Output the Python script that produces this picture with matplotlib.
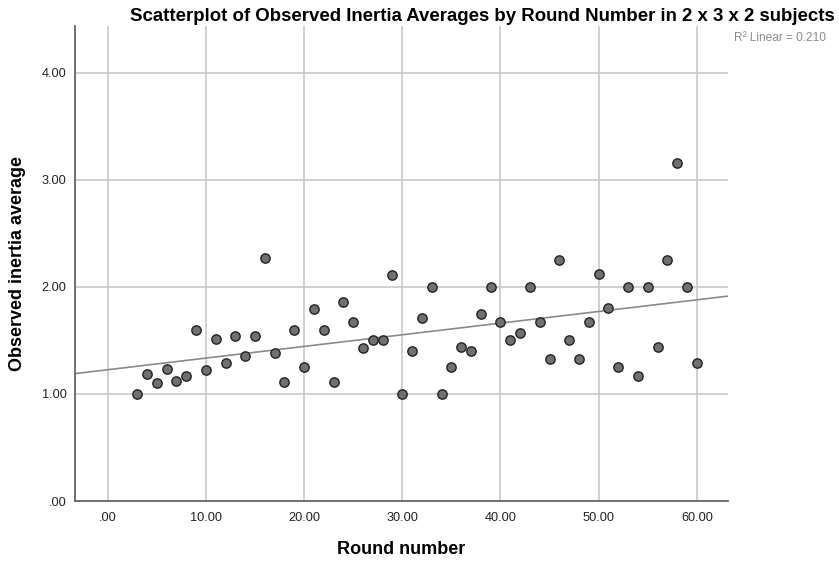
import matplotlib
matplotlib.use("Agg")
import matplotlib.pyplot as plt
import numpy as np

# one observed inertia average per round (rounds 3..60)
rounds = list(range(3, 61))
inertia = [1.00, 1.19, 1.10, 1.23, 1.12, 1.17, 1.60, 1.22, 1.51, 1.29,
           1.54, 1.35, 1.54, 2.27, 1.38, 1.11, 1.60, 1.25, 1.79, 1.60,
           1.11, 1.86, 1.67, 1.43, 1.50, 1.50, 2.11, 1.00, 1.40, 1.71,
           2.00, 1.00, 1.25, 1.44, 1.40, 1.75, 2.00, 1.67, 1.50, 1.57,
           2.00, 1.67, 1.33, 2.25, 1.50, 1.33, 1.67, 2.12, 1.80, 1.25,
           2.00, 1.17, 2.00, 1.44, 2.25, 3.16, 2.00, 1.29]

x_ticks = [0, 10, 20, 30, 40, 50, 60]
y_ticks = [0, 1, 2, 3, 4]
r2_text = "R\u00b2 Linear = 0.210"

plt.rcParams['font.family'] = ['Liberation Sans', 'DejaVu Sans']

fig = plt.figure(figsize=(8.39, 5.61), dpi=100)
ax = fig.add_axes([75 / 839, 60 / 561, 653 / 839, 475 / 561])

xlim = (-3.33, 63.17)
ax.set_xlim(*xlim)
ax.set_ylim(0, 4.435)

ax.set_xticks(x_ticks)
ax.set_yticks(y_ticks)
fmt = lambda v: ("%.2f" % v).lstrip("0") if v < 1 else "%.2f" % v
ax.set_xticklabels([fmt(v) for v in x_ticks])
ax.set_yticklabels([fmt(v) for v in y_ticks])
ax.tick_params(length=0, labelsize=9.2, colors="#222222")
ax.tick_params(axis="x", pad=8)
ax.tick_params(axis="y", pad=6)

ax.grid(True, color="#c4c4c4", linewidth=1.1)
ax.set_axisbelow(True)
for side in ["top", "right"]:
    ax.spines[side].set_visible(False)
for side in ["left", "bottom"]:
    ax.spines[side].set_color("#666666")
    ax.spines[side].set_linewidth(1.3)

# least squares fit line
slope, intercept = np.polyfit(rounds, inertia, 1)
xs = np.array(xlim)
ax.plot(xs, intercept + slope * xs, color="#8a8a8a", linewidth=1.2, zorder=2)

ax.scatter(rounds, inertia, s=45, facecolor="#707070", edgecolor="#222222",
           linewidth=1.0, zorder=3)

ax.set_xlabel("Round number", fontsize=13, fontweight="bold", va="center")
ax.xaxis.set_label_coords(0.5, (501 - 549) / 475)
ax.set_ylabel("Observed inertia average", fontsize=13, fontweight="bold", va="center")
ax.yaxis.set_label_coords((18 - 75) / 653, 0.5)

fig.text(0.995, 1 - 21 / 561, "Scatterplot of Observed Inertia Averages by Round Number in 2 x 3 x 2 subjects",
         ha="right", va="baseline", fontsize=13.4, fontweight="bold")
fig.text(734 / 839, 1 - 38 / 561, r2_text, ha="left", va="center", fontsize=8.6, color="#8c8c8c")

fig.savefig("out.png", dpi=100)
